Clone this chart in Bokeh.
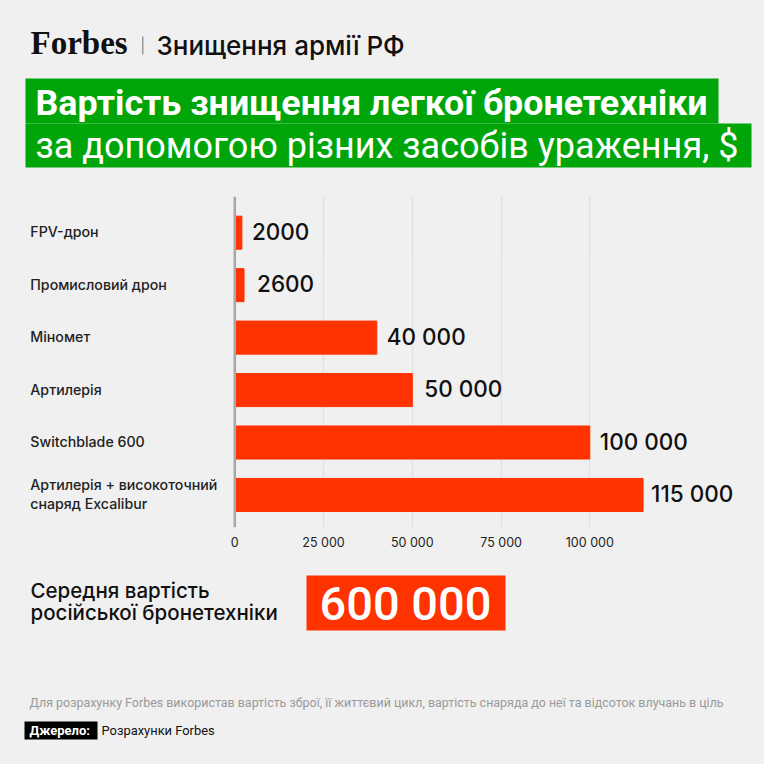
from bokeh.core.properties import value
from bokeh.embed import file_html
from bokeh.layouts import column
from bokeh.models import BoxAnnotation, ColumnDataSource, FixedTicker, Label, Range1d, Span
from bokeh.plotting import figure
from bokeh.resources import INLINE

categories = ["FPV-дрон", "Промисловий дрон", "Міномет", "Артилерія", "Switchblade 600",
              "Артилерія + високоточний\nснаряд Excalibur"]
costs = [2000, 2600, 40000, 50000, 100000, 115000]
cost_labels = ["2000", "2600", "40 000", "50 000", "100 000", "115 000"]
x_ticks = [0, 25000, 50000, 75000, 100000]
x_tick_labels = ["0", "25 000", "50 000", "75 000", "100 000"]

BG = "#f0f0f0"
GREEN = "#00a50a"
RED = "#ff3300"
FONT = "Inter"
MEDIUM = "Inter Medium"
HEAD = "Roboto"


def text_panel(height, top):
    # plain panel whose data units are the pixels of the picture
    f = figure(width=764, height=height, output_backend="svg", toolbar_location=None,
               x_range=Range1d(0, 764), y_range=Range1d(top + height, top),
               x_axis_location=None, y_axis_location=None, min_border=0,
               background_fill_color=None, border_fill_color=None, outline_line_color=None)
    f.xgrid.visible = False
    f.ygrid.visible = False
    return f


def box(f, left, top, right, bottom, color):
    f.add_layout(BoxAnnotation(left=left, right=right, top=top, bottom=bottom,
                               fill_color=color, fill_alpha=1, line_color=None))


def text(f, x, y, s, size, color="#111111", font=HEAD, style="normal", align="left"):
    f.add_layout(Label(x=x, y=y, text=s, text_font=font, text_font_size=size,
                       text_font_style=style, text_color=color, text_align=align,
                       text_baseline="middle"))


# header
head = text_panel(196, 0)
text(head, 30, 42, "Forbes", "33px", font="Liberation Serif", style="bold")
box(head, 141.5, 36, 143, 54, "#999999")
text(head, 156, 45, "Знищення армії РФ", "26px", font=MEDIUM)
box(head, 25, 78, 718, 123, GREEN)
box(head, 25, 123, 751, 167, GREEN)
text(head, 35, 102, "Вартість знищення легкої бронетехніки", "35.8px", color="#ffffff", style="bold")
text(head, 35, 145, "за допомогою різних засобів ураження, $", "36px", color="#ffffff")

# chart
source = ColumnDataSource(dict(
    y=list(range(len(categories))),
    cost=costs,
    cost_label=cost_labels,
    category=categories,
    zero=[0] * len(costs),
    gap=[10, 13, 10, 12, 10, 8],
))

p = figure(width=764, height=364, output_backend="svg", toolbar_location=None,
           x_range=Range1d(-66000, 149211), y_range=Range1d(5.62, -0.69),
           min_border=0, min_border_bottom=33,
           background_fill_color=None, border_fill_color=None, outline_line_color=None)

p.hbar(y="y", left=0, right="cost", height=0.63, source=source, color=RED)

p.yaxis.visible = False
p.ygrid.grid_line_color = None
p.xgrid.grid_line_color = "#e2e2e2"
p.xgrid.grid_line_width = 1.5
p.xaxis.ticker = FixedTicker(ticks=x_ticks)
p.xaxis.major_label_overrides = dict(zip(x_ticks, x_tick_labels))
p.xaxis.axis_line_color = None
p.xaxis.major_tick_line_color = None
p.xaxis.major_tick_out = 0
p.xaxis.minor_tick_line_color = None
p.xaxis.major_label_standoff = 7
p.xaxis.major_label_text_font = FONT
p.xaxis.major_label_text_font_size = "12.5px"
p.xaxis.major_label_text_color = "#222222"

p.add_layout(Span(location=0, dimension="height", line_color="#a8a8a8", line_width=2.5))

p.text(x="cost", y="y", text="cost_label", x_offset="gap", y_offset=-1.5, source=source,
       text_font=value(MEDIUM), text_font_size="22.5px", text_color="#111111",
       text_baseline="middle", text_align="left")
p.text(x="zero", y="y", text="category", x_offset=-204.5, y_offset=-1, source=source,
       text_font=value(MEDIUM), text_font_size="14.2px", text_color="#222222",
       text_baseline="middle", text_align="left", text_line_height=1.1)

# footer
foot = text_panel(204, 560)
text(foot, 30, 590, "Середня вартість", "20.5px", font=MEDIUM)
text(foot, 30, 612, "російської бронетехніки", "20.5px", font=MEDIUM)
box(foot, 306, 575, 505, 630, RED)
text(foot, 405, 603, "600 000", "47px", color="#ffffff", align="center", font="Roboto Medium")
text(foot, 29, 702, "Для розрахунку Forbes використав вартість зброї, її життєвий цикл, вартість снаряда до неї та відсоток влучань в ціль",
     "12.45px", color="#9a9a9a")
box(foot, 24, 721, 97, 739, "#000000")
text(foot, 29, 730, "Джерело:", "13px", color="#ffffff", style="bold")
text(foot, 101, 730, "Розрахунки Forbes", "12.9px")

page = column(head, p, foot, spacing=0, styles={"background-color": BG})
open("out.html", "w").write(file_html(page, INLINE))
